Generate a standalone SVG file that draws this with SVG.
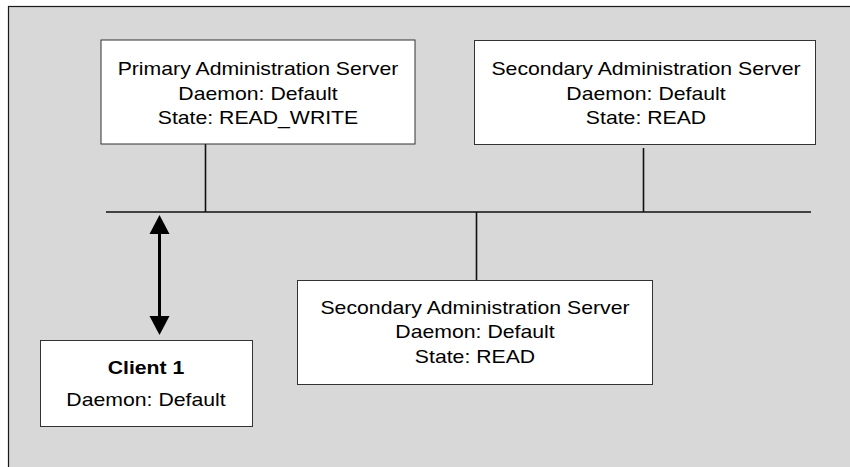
<svg xmlns="http://www.w3.org/2000/svg" width="850" height="467" viewBox="0 0 850 467">
<defs>
<style>
.frame{fill:#d8d8d8;stroke:#1a1a1a;stroke-width:1.2}
.box{fill:#ffffff;stroke:#333333;stroke-width:1}
.wire{stroke:#111111;stroke-width:1.6;fill:none}
.arrow{stroke:#000000;stroke-width:3;fill:none}
.head{fill:#000000;stroke:none}
text{font-family:"Liberation Sans",Arial,sans-serif;font-size:18px;fill:#000000;text-anchor:middle}
.b{font-weight:bold}
</style>
</defs>
<rect class="frame" x="8.5" y="6.5" width="860" height="480"/>
<g id="connectors">
<line class="wire" x1="106" y1="212" x2="811" y2="212"/>
<line class="wire" x1="205.5" y1="144" x2="205.5" y2="212"/>
<line class="wire" x1="643.5" y1="148" x2="643.5" y2="212"/>
<line class="wire" x1="476.5" y1="212" x2="476.5" y2="280"/>
<line class="arrow" x1="159.5" y1="232" x2="159.5" y2="318"/>
<polygon class="head" points="159.5,215 169.5,234 149.5,234"/>
<polygon class="head" points="159.5,335 169.5,316 149.5,316"/>
</g>
<g id="primary">
<rect class="box" x="101" y="40" width="314" height="104"/>
<g transform="translate(258,0) scale(1.18,1)">
<text x="0" y="75">Primary Administration Server</text>
<text x="0" y="100">Daemon: Default</text>
<text x="0" y="124">State: READ_WRITE</text>
</g>
</g>
<g id="secondary1">
<rect class="box" x="474.5" y="40.5" width="341" height="104"/>
<g transform="translate(646,0) scale(1.18,1)">
<text x="0" y="75">Secondary Administration Server</text>
<text x="0" y="100">Daemon: Default</text>
<text x="0" y="124">State: READ</text>
</g>
</g>
<g id="secondary2">
<rect class="box" x="297.5" y="280.5" width="355" height="104"/>
<g transform="translate(475,0) scale(1.18,1)">
<text x="0" y="314">Secondary Administration Server</text>
<text x="0" y="338">Daemon: Default</text>
<text x="0" y="363">State: READ</text>
</g>
</g>
<g id="client1">
<rect class="box" x="40.5" y="340.5" width="212" height="86"/>
<g transform="translate(146,0) scale(1.18,1)">
<text class="b" x="0" y="374">Client 1</text>
<text x="0" y="406">Daemon: Default</text>
</g>
</g>
</svg>
